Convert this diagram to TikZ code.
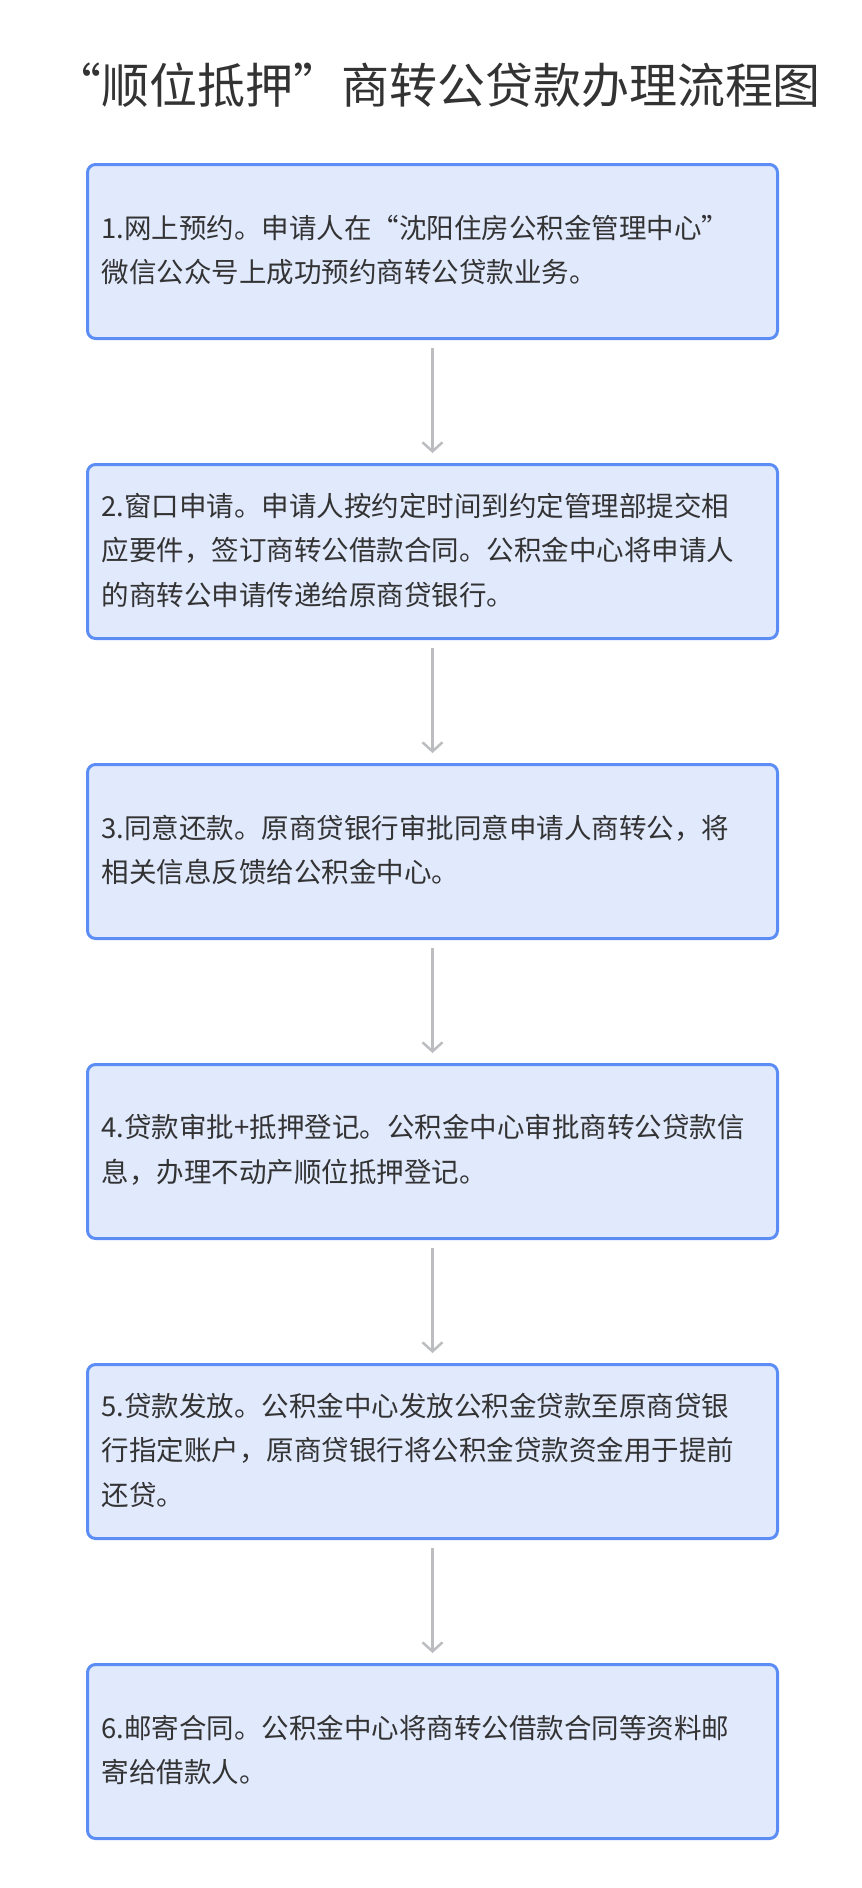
\documentclass[tikz,border=0pt]{standalone}
\usepackage{fontspec}
\setmainfont{Noto Sans CJK SC}
\usetikzlibrary{arrows.meta}
\begin{document}
\begin{tikzpicture}[x=1pt,y=-1pt,
 box/.style={draw=boxb,fill=boxf,line width=3pt,rounded corners=8pt,minimum width=690pt,minimum height=174pt,anchor=north west},
 txt/.style={anchor=west,text=txtc,font=\fontsize{27.5}{44.5}\selectfont,align=left},
 arr/.style={draw=arrc,line width=2.5pt,-{Straight Barb[length=9pt,width=20pt]}}]
\definecolor{boxb}{HTML}{5B8DF5}
\definecolor{boxf}{HTML}{E1E9FD}
\definecolor{txtc}{HTML}{333333}
\definecolor{arrc}{HTML}{BBBDC0}
\useasboundingbox (0,0) rectangle (862,1888);
\node[text=txtc,font=\fontsize{48}{56}\selectfont] (title) at (437,85) {“顺位抵押”商转公贷款办理流程图};
\foreach \i/\y/\t in {
 1/163/{1.网上预约。申请人在“沈阳住房公积金管理中心”\\微信公众号上成功预约商转公贷款业务。},
 2/463/{2.窗口申请。申请人按约定时间到约定管理部提交相\\应要件，签订商转公借款合同。公积金中心将申请人\\的商转公申请传递给原商贷银行。},
 3/763/{3.同意还款。原商贷银行审批同意申请人商转公，将\\相关信息反馈给公积金中心。},
 4/1063/{4.贷款审批+抵押登记。公积金中心审批商转公贷款信\\息，办理不动产顺位抵押登记。},
 5/1363/{5.贷款发放。公积金中心发放公积金贷款至原商贷银\\行指定账户，原商贷银行将公积金贷款资金用于提前\\还贷。},
 6/1663/{6.邮寄合同。公积金中心将商转公借款合同等资料邮\\寄给借款人。}}{
 \node[box] (b\i) at (86,\y) {};
 \node[txt] (t\i) at (98,\y+87) {\t};
}
\foreach \a/\b in {1/2,2/3,3/4,4/5,5/6}{
 \draw[arr] ([yshift=-8pt]b\a.south) -- ([yshift=10pt]b\b.north);
}
\end{tikzpicture}
\end{document}
